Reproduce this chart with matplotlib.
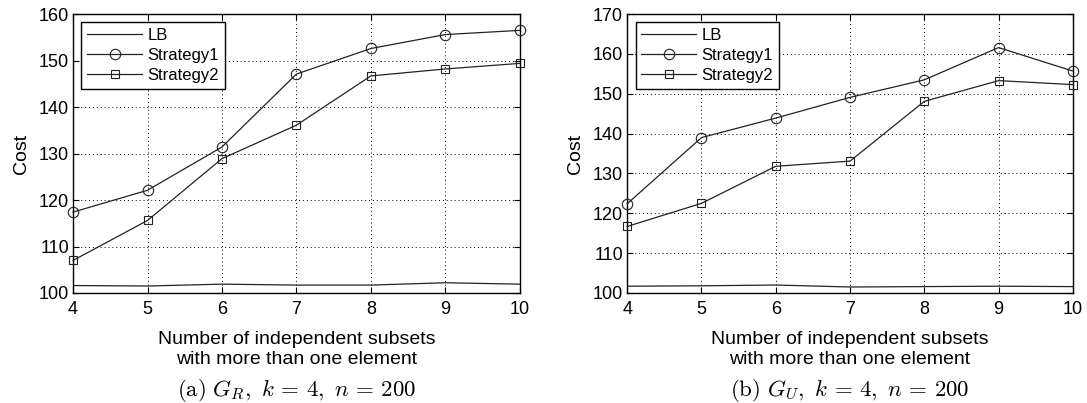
import numpy as np
import matplotlib.pyplot as plt
import matplotlib as mpl

mpl.rcParams['font.family'] = ['Liberation Sans', 'DejaVu Sans']
mpl.rcParams['mathtext.fontset'] = 'cm'

# x values: number of independent subsets
subsets = [4, 5, 6, 7, 8, 9, 10]

# (a) G_R
lb_r = [101.6, 101.5, 101.9, 101.7, 101.7, 102.2, 101.9]
s1_r = [117.4, 122.1, 131.4, 147.1, 152.6, 155.6, 156.5]
s2_r = [107.0, 115.6, 128.9, 136.1, 146.7, 148.2, 149.4]

# (b) G_U
lb_u = [101.7, 101.8, 102.0, 101.5, 101.6, 101.7, 101.6]
s1_u = [122.4, 139.0, 143.9, 149.1, 153.5, 161.6, 155.7]
s2_u = [116.7, 122.5, 131.8, 133.1, 148.1, 153.3, 152.3]

yticks_r = [100, 110, 120, 130, 140, 150, 160]
yticks_u = [100, 110, 120, 130, 140, 150, 160, 170]

captions = [r'$\mathrm{(a)}\ G_R,\ k\,=\,4,\ n\,=\,200$',
            r'$\mathrm{(b)}\ G_U,\ k\,=\,4,\ n\,=\,200$']

fig = plt.figure(figsize=(10.87, 4.03), dpi=100)
ax1 = fig.add_axes([0.0672, 0.273, 0.411, 0.692])
ax2 = fig.add_axes([0.577, 0.273, 0.410, 0.692])

panels = [(ax1, lb_r, s1_r, s2_r, yticks_r),
          (ax2, lb_u, s1_u, s2_u, yticks_u)]

for i, (ax, lb, s1, s2, yt) in enumerate(panels):
	ax.plot(subsets, lb, '-', color='#222222', lw=0.9, label='LB')
	ax.plot(subsets, s1, '-o', color='#222222', lw=0.9, ms=7.5, mfc='none',
	        mew=0.8, label='Strategy1', clip_on=False, zorder=3)
	ax.plot(subsets, s2, '-s', color='#222222', lw=0.9, ms=6, mfc='none',
	        mew=0.8, label='Strategy2', clip_on=False, zorder=3)

	ax.set_xlim(4, 10)
	ax.set_ylim(yt[0], yt[-1])
	ax.set_xticks(subsets)
	ax.set_yticks(yt)
	ax.grid(True, linestyle=(0, (1, 3)), color='black', lw=0.7)
	ax.tick_params(direction='in', length=4, width=0.8, top=True, right=True,
	               labelsize=13)
	ax.tick_params(axis='x', pad=6)
	ax.tick_params(axis='y', pad=3)
	for sp in ax.spines.values():
		sp.set_linewidth(1.0)

	ax.set_ylabel('Cost', fontsize=14, labelpad=6)
	ax.set_xlabel('Number of independent subsets\nwith more than one element',
	              fontsize=14, labelpad=9, linespacing=1.25)
	ax.text(0.5, -0.3, captions[i], transform=ax.transAxes, ha='center',
	        va='top', fontsize=16.5)

	leg = ax.legend(loc='upper left', fontsize=12, handlelength=3.3,
	                fancybox=False, framealpha=1, edgecolor='black',
	                borderaxespad=0.5, labelspacing=0.3, borderpad=0.35,
	                handletextpad=0.3)
	leg.get_frame().set_linewidth(1.0)

plt.savefig('out.png', dpi=100)
